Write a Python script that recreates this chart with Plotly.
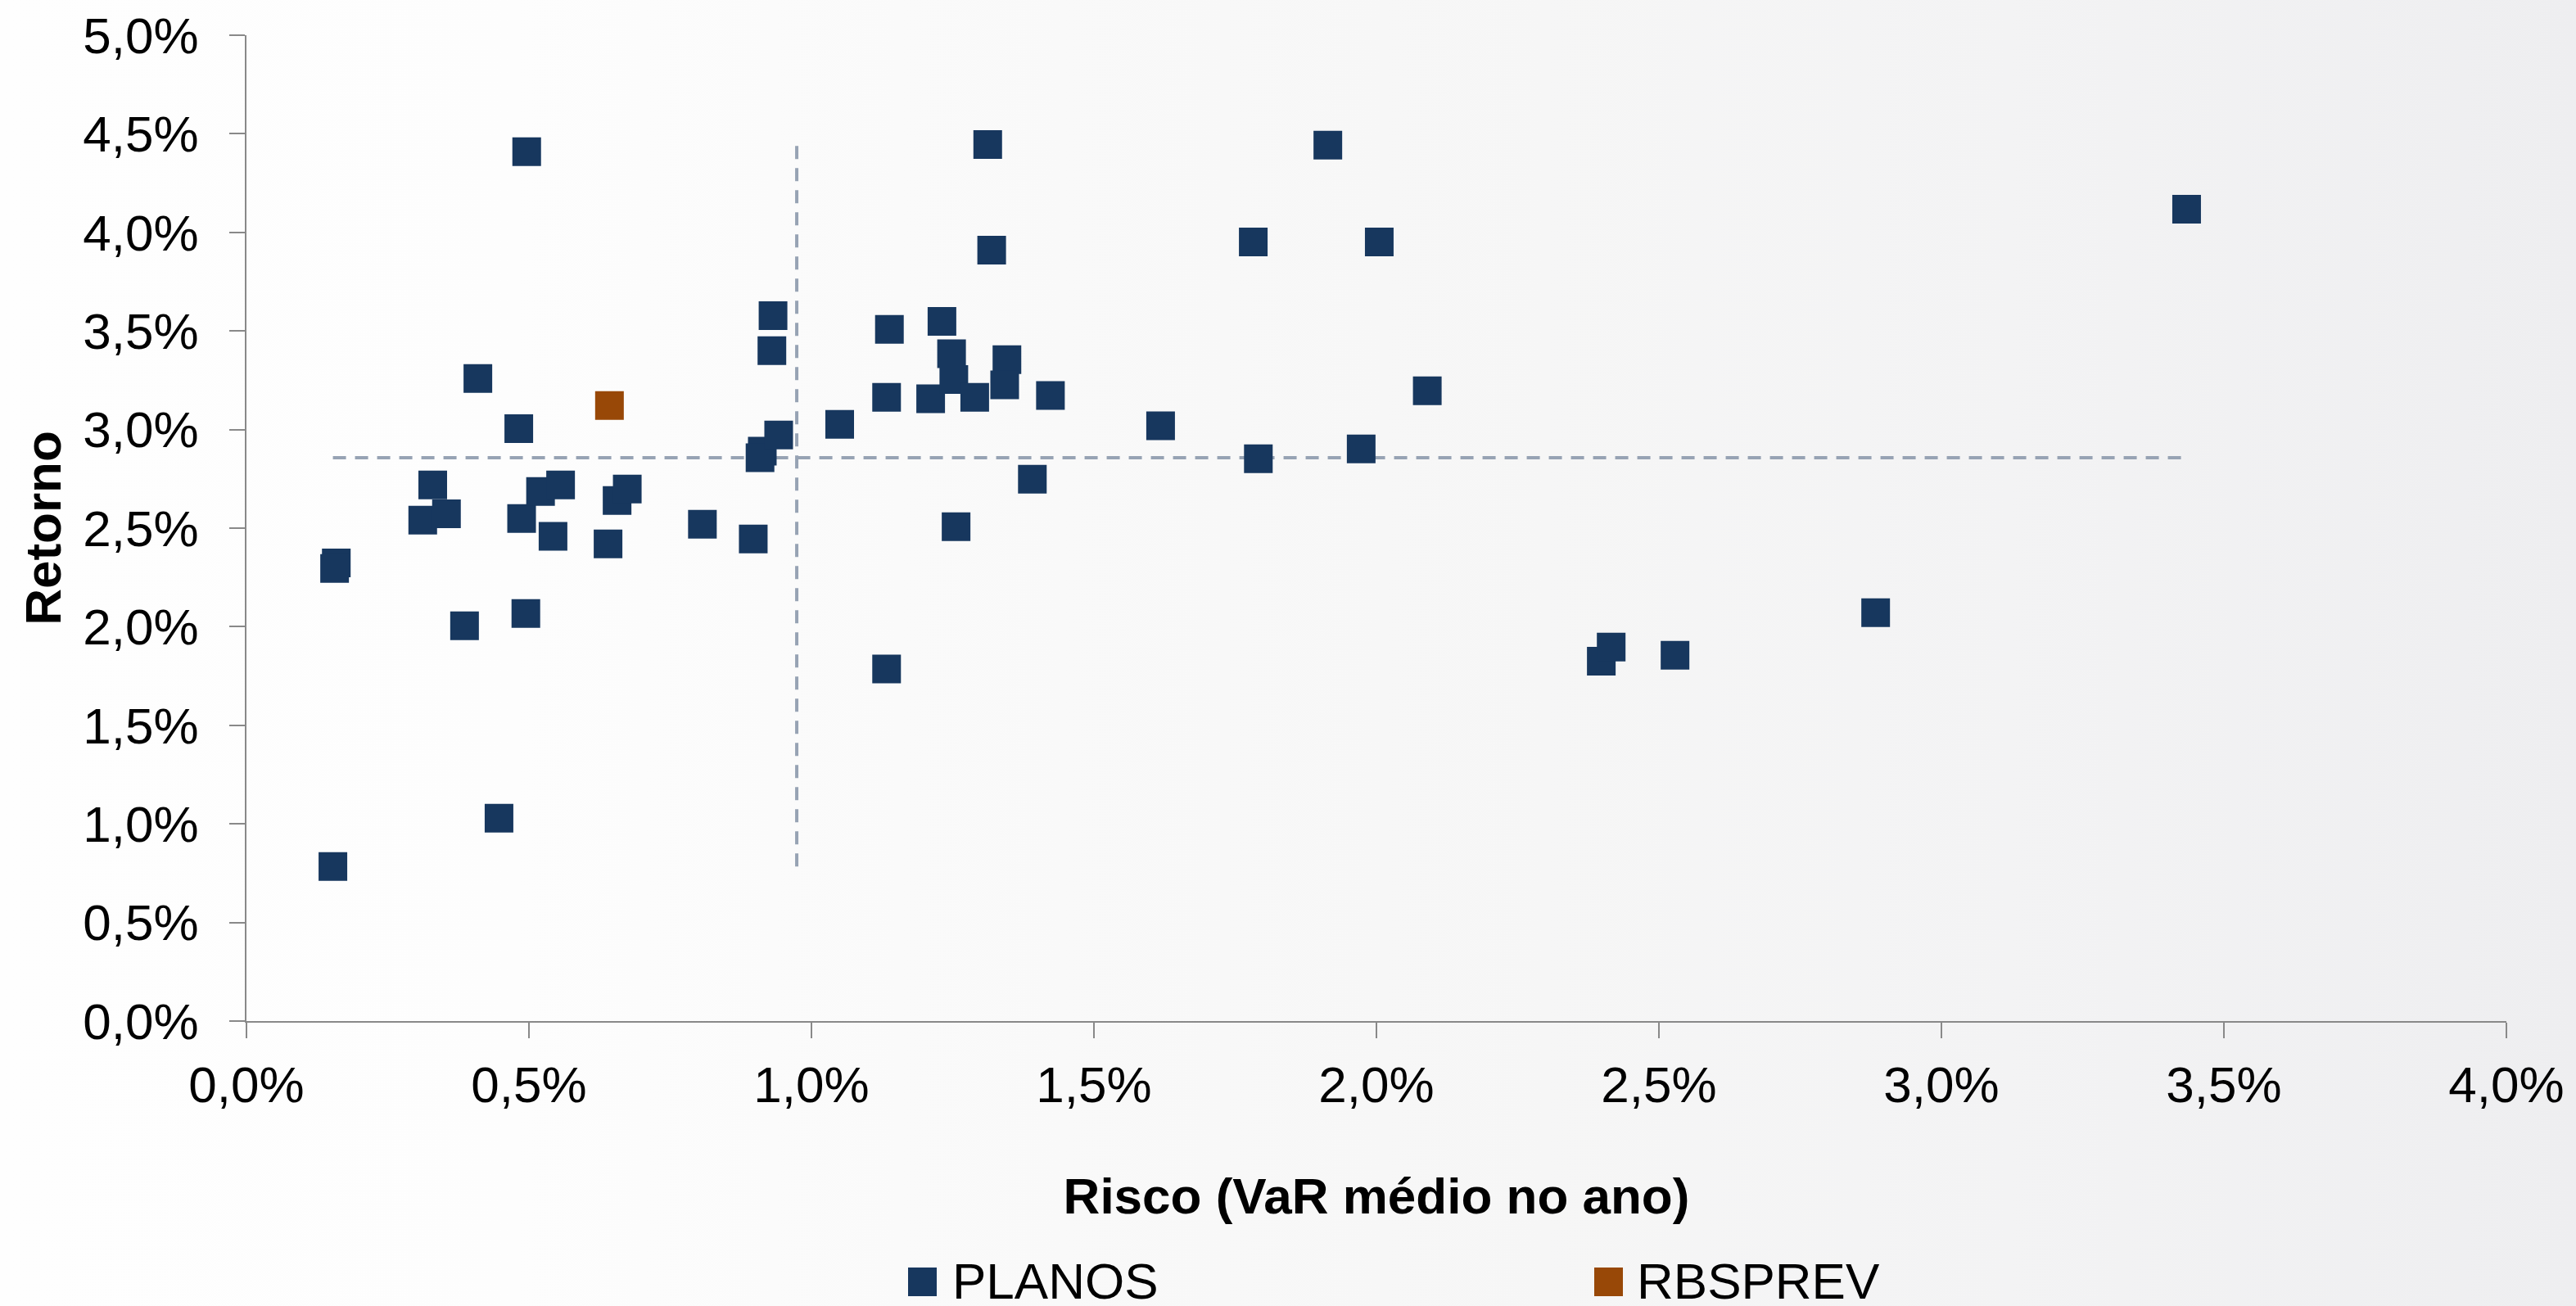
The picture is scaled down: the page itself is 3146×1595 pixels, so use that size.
import base64
import plotly.graph_objects as go

# Risco (VaR médio no ano, %) e retorno (%) de cada plano
planos_risco = [
    0.153, 0.159, 0.156, 0.447, 0.386, 0.4945, 0.496, 0.4096, 0.482, 0.3297,
    0.312, 0.354, 0.487, 0.5205, 0.556, 0.5426, 0.656, 0.674, 0.640, 0.807,
    0.897, 0.913, 0.909, 0.942, 0.932, 0.930, 1.050, 1.138, 1.133, 1.133,
    1.211, 1.231, 1.248, 1.252, 1.256, 1.289, 1.346, 1.342, 1.391, 1.423,
    1.312, 1.319, 1.618, 1.782, 1.791, 1.914, 2.005, 1.973, 2.090, 2.398,
    2.4155, 2.5285, 2.8836, 3.434,
]
planos_retorno = [
    0.784, 2.324, 2.295, 1.029, 2.005, 2.067, 4.409, 3.259, 3.005, 2.719,
    2.540, 2.573, 2.549, 2.686, 2.719, 2.458, 2.640, 2.698, 2.420, 2.520,
    2.445, 2.890, 2.857, 2.972, 3.578, 3.400, 3.026, 3.508, 3.163, 1.786,
    3.156, 3.549, 3.385, 3.254, 2.507, 3.163, 3.354, 3.227, 2.748, 3.173,
    4.446, 3.910, 3.019, 3.951, 2.852, 4.443, 3.951, 2.902, 3.197, 1.825,
    1.897, 1.855, 2.071, 4.118,
]
rbsprev_risco = [0.6425]
rbsprev_retorno = [3.122]

# Linhas de referência (médias)
media_risco = 0.974
media_retorno = 2.857

x_ticks = [0.0, 0.5, 1.0, 1.5, 2.0, 2.5, 3.0, 3.5, 4.0]
x_labels = ["0,0%", "0,5%", "1,0%", "1,5%", "2,0%", "2,5%", "3,0%", "3,5%", "4,0%"]
y_ticks = [0.0, 0.5, 1.0, 1.5, 2.0, 2.5, 3.0, 3.5, 4.0, 4.5, 5.0]
y_labels = ["0,0%", "0,5%", "1,0%", "1,5%", "2,0%", "2,5%", "3,0%", "3,5%",
            "4,0%", "4,5%", "5,0%"]

COR_PLANOS = "#17375E"
COR_RBSPREV = "#984807"
COR_REF = "#97A3B4"
COR_EIXO = "#898989"
FONTE = "Liberation Sans, Arial, sans-serif"

W, H = 3146, 1595
ML, MR, MT, MB = 301, 85, 43, 348
PW, PH = W - ML - MR, H - MT - MB


def px_x(p):
    return (p - ML) / PW


def px_y(p):
    return (H - MB - p) / PH


todos_x = planos_risco + rbsprev_risco
todos_y = planos_retorno + rbsprev_retorno

fig = go.Figure()

# linhas tracejadas das médias, cobrindo a extensão dos dados
fig.add_trace(go.Scatter(
    x=[min(todos_x), max(todos_x)], y=[media_retorno, media_retorno],
    mode="lines", line=dict(color=COR_REF, width=4, dash="16px,11px"),
    showlegend=False, hoverinfo="skip",
))
fig.add_trace(go.Scatter(
    x=[media_risco, media_risco], y=[min(todos_y), max(todos_y)],
    mode="lines", line=dict(color=COR_REF, width=4, dash="16px,11px"),
    showlegend=False, hoverinfo="skip",
))

fig.add_trace(go.Scatter(
    x=planos_risco, y=planos_retorno, mode="markers", name="PLANOS",
    marker=dict(symbol="square", size=35, color=COR_PLANOS, line=dict(width=0)),
    showlegend=False,
))
fig.add_trace(go.Scatter(
    x=rbsprev_risco, y=rbsprev_retorno, mode="markers", name="RBSPREV",
    marker=dict(symbol="square", size=35, color=COR_RBSPREV, line=dict(width=0)),
    showlegend=False,
))

# fundo em degradê horizontal
svg = (
    f'<svg xmlns="http://www.w3.org/2000/svg" width="{W}" height="{H}">'
    '<defs><linearGradient id="g" x1="0" y1="0" x2="1" y2="0">'
    '<stop offset="0" stop-color="#FEFEFE"/>'
    '<stop offset="0.2" stop-color="#FDFDFD"/>'
    '<stop offset="0.35" stop-color="#FAFAFA"/>'
    '<stop offset="0.6" stop-color="#F6F6F6"/>'
    '<stop offset="0.78" stop-color="#F3F3F4"/>'
    '<stop offset="1" stop-color="#EEEEF0"/>'
    '</linearGradient></defs>'
    f'<rect width="{W}" height="{H}" fill="url(#g)"/></svg>'
)
bg_src = "data:image/svg+xml;base64," + base64.b64encode(svg.encode()).decode()

# legenda desenhada com quadrados grandes
legenda = [("PLANOS", COR_PLANOS, 1126.5, 1161), ("RBSPREV", COR_RBSPREV, 1964.5, 1997)]
shapes = []
annotations = []
for nome, cor, cx, tx in legenda:
    shapes.append(dict(
        type="rect", xref="paper", yref="paper",
        xsizemode="pixel", ysizemode="pixel",
        xanchor=px_x(cx), yanchor=px_y(1565.5),
        x0=-17.5, x1=17.5, y0=-17.5, y1=17.5,
        fillcolor=cor, line=dict(width=0),
    ))
    annotations.append(dict(
        text=nome, xref="paper", yref="paper", x=px_x(tx), y=px_y(1565),
        xanchor="left", yanchor="middle", showarrow=False,
        font=dict(family=FONTE, size=62, color="#000000"),
    ))

eixo = dict(
    showgrid=False, zeroline=False, showline=True, linecolor=COR_EIXO, linewidth=2,
    ticks="outside", ticklen=19, tickwidth=2, tickcolor=COR_EIXO,
    tickfont=dict(family=FONTE, size=62, color="#000000"),
    tickmode="array", automargin=False,
)

fig.update_layout(
    width=W, height=H,
    margin=dict(l=ML, r=MR, t=MT, b=MB),
    paper_bgcolor="rgba(0,0,0,0)", plot_bgcolor="rgba(0,0,0,0)",
    images=[dict(
        source=bg_src, xref="paper", yref="paper",
        x=-ML / PW, y=1 + MT / PH, sizex=W / PW, sizey=H / PH,
        xanchor="left", yanchor="top", sizing="stretch", layer="below",
    )],
    xaxis=dict(
        eixo, range=[0, 4], tickvals=x_ticks, ticktext=x_labels, ticklabelstandoff=4,
        title=dict(text="<b>Risco (VaR médio no ano)</b>", standoff=80,
                   font=dict(family=FONTE, size=62, color="#000000")),
    ),
    yaxis=dict(
        eixo, range=[0, 5], tickvals=y_ticks, ticktext=y_labels, ticklabelstandoff=25,
        title=dict(text="<b>Retorno</b>", standoff=7,
                   font=dict(family=FONTE, size=62, color="#000000")),
    ),
    shapes=shapes, annotations=annotations,
    showlegend=False,
)

fig.write_html("out.html")
